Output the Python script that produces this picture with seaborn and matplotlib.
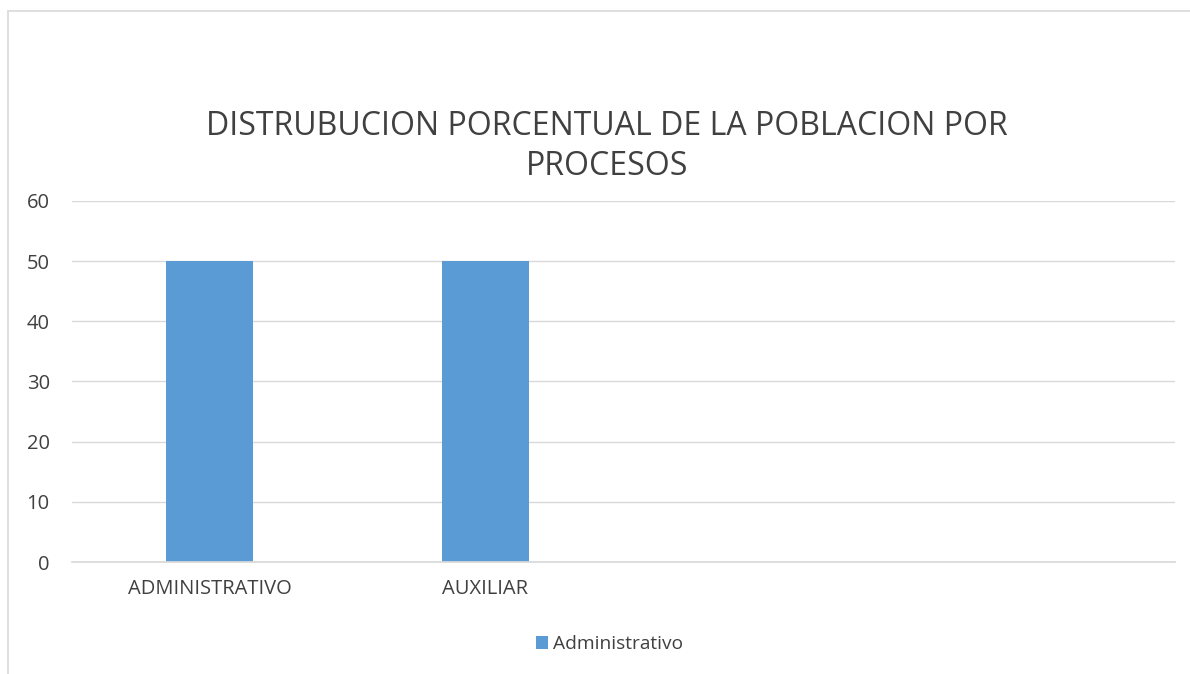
import pandas as pd
import numpy as np
import matplotlib
matplotlib.use("Agg")
import matplotlib.pyplot as plt
import seaborn as sns

# chart data
categories = ["ADMINISTRATIVO", "AUXILIAR", "slot3", "slot4"]
tick_labels = ["ADMINISTRATIVO", "AUXILIAR", "", ""]
values = [50, 50, np.nan, np.nan]
series_name = "Administrativo"

df = pd.DataFrame({"proceso": categories, "valor": values, "serie": series_name})

sns.set_theme(style="white")
plt.rcParams["font.family"] = ["Open Sans", "DejaVu Sans"]

text_color = "#404040"
bar_color = "#5B9BD5"
grid_color = "#D9D9D9"

fig = plt.figure(figsize=(11.9, 6.74), dpi=100)
ax = fig.add_axes([0.0605, 0.166, 0.9265, 0.536])

sns.barplot(data=df.dropna(), x="proceso", y="valor", hue="serie", order=categories,
            palette=[bar_color], width=0.315, dodge=False, ax=ax, saturation=1,
            linewidth=0)

ax.set_xlim(-0.5, 3.5)
ax.set_ylim(0, 60)
ax.set_yticks(range(0, 61, 10))
ax.set_xticks(range(len(categories)))
ax.set_xticklabels(tick_labels)
ax.set_xlabel("")
ax.set_ylabel("")
ax.yaxis.grid(True, color=grid_color, linewidth=1)
ax.set_axisbelow(True)
for side in ["top", "right", "left"]:
    ax.spines[side].set_visible(False)
ax.spines["bottom"].set_color(grid_color)
ax.tick_params(axis="both", length=0, labelsize=14.5, colors=text_color)
ax.tick_params(axis="y", pad=16)
ax.tick_params(axis="x", pad=12)

fig.text(0.51, 0.783, "DISTRUBUCION PORCENTUAL DE LA POBLACION POR\nPROCESOS",
         ha="center", va="center", fontsize=23, color=text_color, linespacing=1.3)

sns.move_legend(ax, "center", bbox_to_anchor=(0.512, 0.044), bbox_transform=fig.transFigure,
                frameon=False, title=None, fontsize=13.8, handlelength=0.62, handleheight=0.62,
                handletextpad=0.25)
for t in ax.get_legend().get_texts():
    t.set_color(text_color)

# chart frame
fig.add_artist(plt.Line2D([0.007, 0.007], [0.0, 0.984], color="#D9D9D9", lw=1.2,
                          transform=fig.transFigure))
fig.add_artist(plt.Line2D([0.007, 1.0], [0.984, 0.984], color="#D9D9D9", lw=1.2,
                          transform=fig.transFigure))

fig.savefig("out.png", dpi=100, facecolor="white")
